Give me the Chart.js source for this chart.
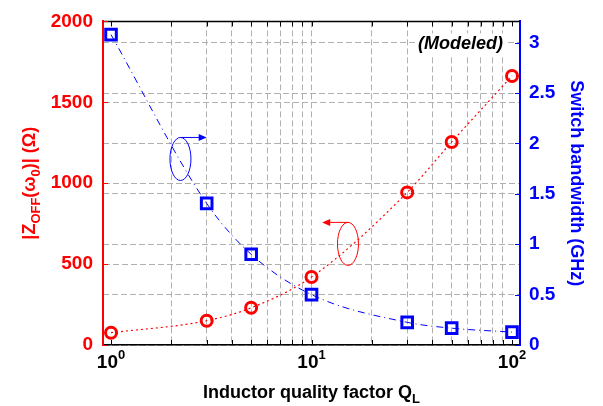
<!DOCTYPE html>
<html>
<head>
<meta charset="utf-8">
<script src="https://cdn.jsdelivr.net/npm/chart.js@4.4.0/dist/chart.umd.min.js"></script>
<style>
  html, body { margin: 0; padding: 0; background: #fff; }
  #wrap { width: 603px; height: 406px; }
</style>
</head>
<body>
<div id="wrap"><canvas id="qChart"></canvas></div>
<script>
// Modeled sweep of the inductor quality factor
const qualityFactor = [1, 3, 5, 10, 30, 50, 100];
const zOffOhm = [76, 150, 230, 420, 943, 1255, 1663];
const bandwidthGHz = [3.08, 1.405, 0.90, 0.50, 0.225, 0.167, 0.128];

// tick values (log x: grid on every tick, labels on decades only)
const xTickValues = [1, 2, 3, 4, 5, 6, 7, 8, 9, 10, 20, 30, 40, 50, 60, 70, 80, 90, 100];
const xDecadeLabels = [[1, '10', '0'], [10, '10', '1'], [100, '10', '2']];
const zTickValues = [0, 500, 1000, 1500, 2000];
const bwTickValues = [0, 0.5, 1, 1.5, 2, 2.5, 3];

const RED = '#ff0000';
const BLUE = '#0000ff';
const GRID = '#b0b0b0';
const FONT = "'Liberation Sans', Arial, sans-serif";

// draw a run of text pieces (normal / subscript / superscript) centred at 0,0
function drawRichText(ctx, parts, size) {
    const small = Math.round(size * 0.7);
    let total = 0;
    parts.forEach(p => {
        ctx.font = 'bold ' + (p[1] ? small : size) + 'px ' + FONT;
        total += ctx.measureText(p[0]).width;
    });
    let x = -total / 2;
    ctx.textAlign = 'left';
    ctx.textBaseline = 'alphabetic';
    parts.forEach(p => {
        ctx.font = 'bold ' + (p[1] ? small : size) + 'px ' + FONT;
        const dy = p[1] === 'sub' ? size * 0.25 : (p[1] === 'sup' ? -size * 0.45 : 0);
        ctx.fillText(p[0], x, dy);
        x += ctx.measureText(p[0]).width;
    });
}

function arrow(ctx, x0, y, x1, color) {
    const dir = Math.sign(x1 - x0);
    ctx.strokeStyle = color;
    ctx.fillStyle = color;
    ctx.lineWidth = 1;
    ctx.beginPath();
    ctx.moveTo(x0, y);
    ctx.lineTo(x1 - dir * 6, y);
    ctx.stroke();
    ctx.beginPath();
    ctx.moveTo(x1, y);
    ctx.lineTo(x1 - dir * 8, y - 3.5);
    ctx.lineTo(x1 - dir * 8, y + 3.5);
    ctx.closePath();
    ctx.fill();
}

// frame, inward ticks, titles, loop markers
const decorPlugin = {
    id: 'decor',
    afterDraw(chart) {
        const ctx = chart.ctx;
        const a = chart.chartArea;
        const sx = chart.scales.x, sy = chart.scales.y, sy1 = chart.scales.y1;
        ctx.save();

        // top frame line
        ctx.strokeStyle = '#000';
        ctx.lineWidth = 1.5;
        ctx.beginPath();
        ctx.moveTo(a.left, a.top);
        ctx.lineTo(a.right, a.top);
        ctx.stroke();

        // inward ticks
        ctx.lineWidth = 1;
        xTickValues.forEach(v => {
            const px = Math.round(sx.getPixelForValue(v)) + 0.5;
            ctx.beginPath();
            ctx.moveTo(px, a.top); ctx.lineTo(px, a.top + 5);
            ctx.moveTo(px, a.bottom); ctx.lineTo(px, a.bottom - 5);
            ctx.stroke();
        });
        ctx.strokeStyle = RED;
        zTickValues.forEach(v => {
            const py = Math.round(sy.getPixelForValue(v)) + 0.5;
            ctx.beginPath(); ctx.moveTo(a.left, py); ctx.lineTo(a.left + 5, py); ctx.stroke();
        });
        ctx.strokeStyle = BLUE;
        bwTickValues.forEach(v => {
            const py = Math.round(sy1.getPixelForValue(v)) + 0.5;
            ctx.beginPath(); ctx.moveTo(a.right, py); ctx.lineTo(a.right - 5, py); ctx.stroke();
        });

        // decade labels 10^n
        ctx.fillStyle = '#000';
        xDecadeLabels.forEach(d => {
            ctx.save();
            ctx.translate(sx.getPixelForValue(d[0]), 368);
            drawRichText(ctx, [[d[1]], [d[2], 'sup']], 19);
            ctx.restore();
        });

        // axis titles
        ctx.save();
        ctx.translate((a.left + a.right) / 2, 398);
        ctx.fillStyle = '#000';
        drawRichText(ctx, [['Inductor quality factor Q'], ['L', 'sub']], 18);
        ctx.restore();

        ctx.save();
        ctx.translate(35, (a.top + a.bottom) / 2);
        ctx.rotate(-Math.PI / 2);
        ctx.fillStyle = RED;
        drawRichText(ctx, [['|Z'], ['OFF', 'sub'], ['(\u03C9'], ['0', 'sub'], [')| (\u03A9)']], 18);
        ctx.restore();

        ctx.save();
        ctx.translate(571, (a.top + a.bottom) / 2);
        ctx.rotate(Math.PI / 2);
        ctx.fillStyle = BLUE;
        drawRichText(ctx, [['Switch bandwidth (GHz)']], 18);
        ctx.restore();

        // (Modeled) tag
        ctx.font = 'italic bold 18px ' + FONT;
        ctx.textAlign = 'right';
        ctx.textBaseline = 'middle';
        const tw = ctx.measureText('(Modeled)').width;
        ctx.fillStyle = '#fff';
        ctx.fillRect(a.right - 17 - tw - 3, a.top + 12, tw + 6, 22);
        ctx.fillStyle = '#000';
        ctx.fillText('(Modeled)', a.right - 17, a.top + 23);

        // loop + arrow markers pointing to each axis
        const loops = [
            { x: 2.22, y: 1.846, scale: sy1, to: 3.0, color: BLUE },
            { x: 15.2, y: 625, scale: sy, to: 11.3, color: RED }
        ];
        loops.forEach(l => {
            const cx = sx.getPixelForValue(l.x);
            const cy = l.scale.getPixelForValue(l.y);
            ctx.strokeStyle = l.color;
            ctx.lineWidth = 1;
            ctx.beginPath();
            ctx.ellipse(cx, cy, 10.5, 21.5, 0, 0, Math.PI * 2);
            ctx.stroke();
            arrow(ctx, cx, cy - 21.5, sx.getPixelForValue(l.to), l.color);
        });

        ctx.restore();
    }
};

const gridDash = { display: true, color: GRID, lineWidth: 1, drawTicks: false };

new Chart(document.getElementById('qChart'), {
    type: 'line',
    data: {
        datasets: [
            {
                label: '|Z_OFF|',
                data: qualityFactor.map((q, i) => ({ x: q, y: zOffOhm[i] })),
                yAxisID: 'y',
                borderColor: RED,
                borderWidth: 1.2,
                borderDash: [2, 3],
                cubicInterpolationMode: 'monotone',
                pointStyle: 'circle',
                pointRadius: 5.5,
                pointBorderWidth: 3,
                pointBorderColor: RED,
                pointBackgroundColor: 'rgba(0,0,0,0)',
                fill: false
            },
            {
                label: 'Switch bandwidth',
                data: qualityFactor.map((q, i) => ({ x: q, y: bandwidthGHz[i] })),
                yAxisID: 'y1',
                borderColor: BLUE,
                borderWidth: 1,
                borderDash: [7, 4, 1, 4],
                cubicInterpolationMode: 'monotone',
                pointStyle: 'rect',
                pointRadius: 7.5,
                pointBorderWidth: 3,
                pointBorderColor: BLUE,
                pointBackgroundColor: 'rgba(0,0,0,0)',
                fill: false
            }
        ]
    },
    options: {
        responsive: true,
        maintainAspectRatio: false,
        animation: false,
        layout: { padding: { top: 12, left: 0, right: 0, bottom: 0 } },
        plugins: {
            legend: { display: false },
            tooltip: { enabled: false }
        },
        scales: {
            x: {
                type: 'logarithmic',
                min: 0.912,
                max: 109.6,
                afterBuildTicks: s => { s.ticks = xTickValues.map(v => ({ value: v })); },
                afterFit: s => { s.height = 61; },
                ticks: { callback: () => '', autoSkip: false },
                grid: {
                    ...gridDash,
                    color: c => (c.tick && (c.tick.value === 1 || c.tick.value === 100)) ? 'rgba(0,0,0,0)' : GRID
                },
                border: { color: '#000', width: 1.5, dash: [6, 3] }
            },
            y: {
                position: 'left',
                min: 0,
                max: 2000,
                afterBuildTicks: s => { s.ticks = zTickValues.map(v => ({ value: v })); },
                afterFit: s => { s.width = 103; },
                ticks: {
                    color: RED, padding: 10,
                    font: { family: FONT, size: 19, weight: 'bold' },
                    callback: v => String(v)
                },
                grid: gridDash,
                border: { color: RED, width: 2, dash: [6, 3] }
            },
            y1: {
                position: 'right',
                min: 0,
                max: 3.211,
                afterBuildTicks: s => { s.ticks = bwTickValues.map(v => ({ value: v })); },
                afterFit: s => { s.width = 83; },
                ticks: {
                    color: BLUE, padding: 9,
                    font: { family: FONT, size: 19, weight: 'bold' },
                    callback: v => String(v)
                },
                grid: gridDash,
                border: { color: BLUE, width: 2, dash: [6, 3] }
            }
        }
    },
    plugins: [decorPlugin]
});
</script>
</body>
</html>
